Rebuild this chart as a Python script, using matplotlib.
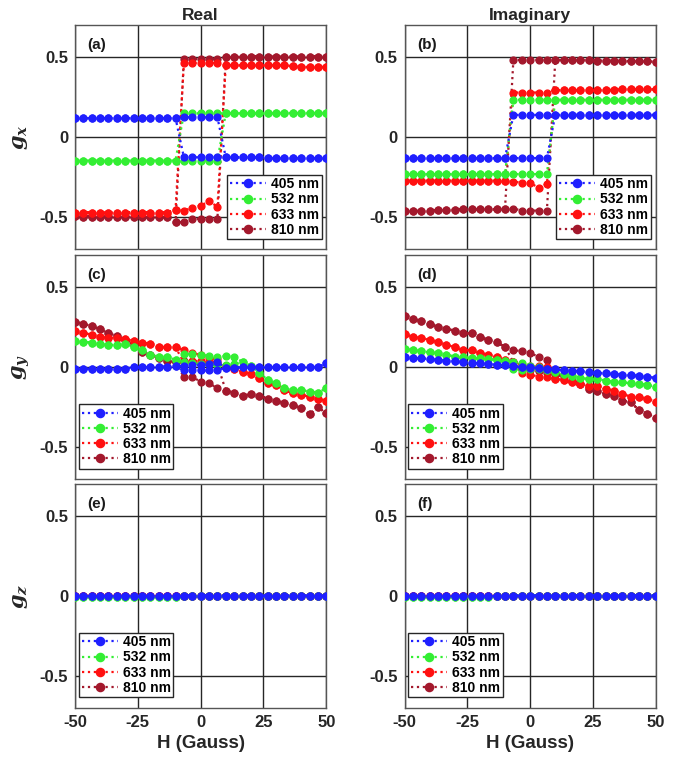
import matplotlib
matplotlib.use('Agg')
import matplotlib.pyplot as plt

plt.rcParams['font.family'] = ['Liberation Sans', 'DejaVu Sans']
plt.rcParams['font.weight'] = 'bold'
plt.rcParams['axes.unicode_minus'] = False
plt.rcParams['mathtext.fontset'] = 'custom'
plt.rcParams['mathtext.it'] = 'DejaVu Serif:italic'
plt.rcParams['mathtext.rm'] = 'DejaVu Serif'

# ---------------- data ----------------
H = [-50.0, -46.67, -43.33, -40.0, -36.67, -33.33, -30.0, -26.67, -23.33, -20.0,
     -16.67, -13.33, -10.0, -6.67, -3.33, 0.0, 3.33, 6.67, 10.0, 13.33,
     16.67, 20.0, 23.33, 26.67, 30.0, 33.33, 36.67, 40.0, 43.33, 46.67, 50.0]

wavelengths = ['405 nm', '532 nm', '633 nm', '810 nm']
colors = ['#1f1fff', '#33ee33', '#ff1010', '#a3182c']

# (a) Real g_x : forward sweep (up) and backward sweep (dn), both listed in increasing H
gx_re_405_up = [0.12, 0.12, 0.12, 0.12, 0.12, 0.12, 0.12, 0.12, 0.12, 0.12, 0.12, 0.12, 0.12,
                0.125, 0.125, 0.125, 0.125, 0.125, -0.125, -0.125, -0.125, -0.125, -0.125,
                -0.13, -0.13, -0.13, -0.13, -0.13, -0.13, -0.13, -0.13]
gx_re_405_dn = [0.12, 0.12, 0.12, 0.12, 0.12, 0.12, 0.12, 0.12, 0.12, 0.12, 0.12, 0.12, 0.12,
                -0.125, -0.125, -0.125, -0.125, -0.125, -0.125, -0.125, -0.125, -0.125, -0.125,
                -0.13, -0.13, -0.13, -0.13, -0.13, -0.13, -0.13, -0.13]
gx_re_532_up = [-0.145, -0.145, -0.145, -0.145, -0.145, -0.145, -0.145, -0.145, -0.145, -0.145,
                -0.145, -0.145, -0.145, -0.145, -0.145, -0.145, -0.145, -0.145, 0.15, 0.15,
                0.15, 0.15, 0.15, 0.15, 0.152, 0.152, 0.152, 0.152, 0.152, 0.152, 0.152]
gx_re_532_dn = [-0.145, -0.145, -0.145, -0.145, -0.145, -0.145, -0.145, -0.145, -0.145, -0.145,
                -0.145, -0.145, -0.145, 0.15, 0.15, 0.15, 0.15, 0.15, 0.15, 0.15,
                0.15, 0.15, 0.15, 0.15, 0.152, 0.152, 0.152, 0.152, 0.152, 0.152, 0.152]
gx_re_633_up = [-0.47, -0.47, -0.47, -0.47, -0.47, -0.47, -0.47, -0.47, -0.47, -0.47, -0.47, -0.47,
                -0.455, -0.458, -0.44, -0.427, -0.40, -0.433, 0.45, 0.45, 0.45, 0.45, 0.45, 0.45,
                0.45, 0.45, 0.445, 0.44, 0.44, 0.44, 0.44]
gx_re_633_dn = [-0.47, -0.47, -0.47, -0.47, -0.47, -0.47, -0.47, -0.47, -0.47, -0.47, -0.47, -0.47,
                -0.455, 0.465, 0.465, 0.465, 0.465, 0.465, 0.45, 0.45, 0.45, 0.45, 0.45, 0.45,
                0.45, 0.45, 0.445, 0.44, 0.44, 0.44, 0.44]
gx_re_810_up = [-0.49, -0.495, -0.495, -0.495, -0.495, -0.495, -0.495, -0.5, -0.5, -0.5, -0.5, -0.5,
                -0.53, -0.53, -0.51, -0.51, -0.51, -0.51, 0.5, 0.5, 0.505, 0.505, 0.505, 0.505,
                0.505, 0.505, 0.505, 0.505, 0.505, 0.505, 0.505]
gx_re_810_dn = [-0.49, -0.495, -0.495, -0.495, -0.495, -0.495, -0.495, -0.5, -0.5, -0.5, -0.5, -0.5,
                -0.53, 0.49, 0.49, 0.49, 0.49, 0.49, 0.5, 0.5, 0.505, 0.505, 0.505, 0.505,
                0.505, 0.505, 0.505, 0.505, 0.505, 0.505, 0.505]

# (b) Imaginary g_x
gx_im_405_up = [-0.13, -0.13, -0.13, -0.13, -0.13, -0.13, -0.13, -0.13, -0.13, -0.13, -0.13, -0.13,
                -0.13, -0.13, -0.13, -0.13, -0.13, -0.13, 0.14, 0.14, 0.14, 0.14, 0.14, 0.14,
                0.14, 0.14, 0.14, 0.14, 0.14, 0.14, 0.14]
gx_im_405_dn = [-0.13, -0.13, -0.13, -0.13, -0.13, -0.13, -0.13, -0.13, -0.13, -0.13, -0.13, -0.13,
                -0.13, 0.14, 0.14, 0.14, 0.14, 0.14, 0.14, 0.14, 0.14, 0.14, 0.14, 0.14,
                0.14, 0.14, 0.14, 0.14, 0.14, 0.14, 0.14]
gx_im_532_up = [-0.23, -0.23, -0.23, -0.23, -0.23, -0.23, -0.23, -0.23, -0.23, -0.23, -0.23, -0.23,
                -0.23, -0.23, -0.23, -0.23, -0.23, -0.23, 0.235, 0.235, 0.235, 0.235, 0.235, 0.235,
                0.235, 0.235, 0.235, 0.235, 0.235, 0.235, 0.235]
gx_im_532_dn = [-0.23, -0.23, -0.23, -0.23, -0.23, -0.23, -0.23, -0.23, -0.23, -0.23, -0.23, -0.23,
                -0.23, 0.235, 0.235, 0.235, 0.235, 0.235, 0.235, 0.235, 0.235, 0.235, 0.235, 0.235,
                0.235, 0.235, 0.235, 0.235, 0.235, 0.235, 0.235]
gx_im_633_up = [-0.27, -0.27, -0.27, -0.27, -0.27, -0.27, -0.27, -0.27, -0.27, -0.27, -0.27, -0.27,
                -0.27, -0.277, -0.283, -0.285, -0.315, -0.29, 0.295, 0.295, 0.295, 0.295, 0.295, 0.295,
                0.295, 0.297, 0.3, 0.3, 0.3, 0.3, 0.3]
gx_im_633_dn = [-0.27, -0.27, -0.27, -0.27, -0.27, -0.27, -0.27, -0.27, -0.27, -0.27, -0.27, -0.27,
                -0.27, 0.28, 0.28, 0.28, 0.28, 0.28, 0.295, 0.295, 0.295, 0.295, 0.295, 0.295,
                0.295, 0.297, 0.3, 0.3, 0.3, 0.3, 0.3]
gx_im_810_up = [-0.46, -0.46, -0.46, -0.458, -0.455, -0.455, -0.452, -0.45, -0.45, -0.45, -0.45, -0.45,
                -0.445, -0.445, -0.458, -0.458, -0.458, -0.458, 0.483, 0.483, 0.483, 0.483, 0.483, 0.48,
                0.48, 0.48, 0.478, 0.476, 0.475, 0.474, 0.473]
gx_im_810_dn = [-0.46, -0.46, -0.46, -0.458, -0.455, -0.455, -0.452, -0.45, -0.45, -0.45, -0.45, -0.45,
                -0.445, 0.483, 0.483, 0.483, 0.483, 0.483, 0.483, 0.483, 0.483, 0.483, 0.483, 0.48,
                0.48, 0.48, 0.478, 0.476, 0.475, 0.474, 0.473]

# (c) Real g_y
gy_re_405_up = [-0.008, -0.008, -0.01, -0.01, -0.01, -0.01, -0.008, 0.0, 0.0, 0.002, 0.003, 0.004,
                0.005, -0.02, -0.02, -0.02, -0.02, -0.02, -0.002, -0.002, 0.0, 0.0, 0.0, 0.0,
                0.0, 0.0, 0.0, 0.0, 0.0, 0.003, 0.025]
gy_re_405_dn = [-0.008, -0.008, -0.01, -0.01, -0.01, -0.01, -0.008, 0.0, 0.0, 0.002, 0.003, 0.004,
                0.005, 0.01, 0.015, 0.015, 0.02, 0.03, -0.002, -0.002, 0.0, 0.0, 0.0, 0.0,
                0.0, 0.0, 0.0, 0.0, 0.0, 0.003, 0.025]
gy_re_532_up = [0.167, 0.16, 0.154, 0.146, 0.14, 0.14, 0.146, 0.129, 0.108, 0.077, 0.067, 0.067,
                0.046, 0.083, 0.083, 0.077, 0.071, 0.063, 0.071, 0.063, 0.035, 0.008, -0.033, -0.079,
                -0.1, -0.131, -0.142, -0.142, -0.152, -0.158, -0.131]
gy_re_532_dn = [0.167, 0.16, 0.154, 0.146, 0.14, 0.14, 0.146, 0.129, 0.108, 0.077, 0.067, 0.067,
                0.046, 0.03, 0.025, 0.02, 0.02, 0.015, 0.015, 0.02, 0.035, 0.008, -0.033, -0.079,
                -0.1, -0.131, -0.142, -0.142, -0.152, -0.158, -0.131]
gy_re_633_up = [0.227, 0.217, 0.202, 0.19, 0.185, 0.185, 0.175, 0.167, 0.154, 0.146, 0.129, 0.125,
                0.125, 0.108, 0.092, 0.075, 0.06, 0.05, 0.008, -0.013, -0.027, -0.042, -0.069, -0.1,
                -0.11, -0.142, -0.163, -0.173, -0.183, -0.2, -0.208]
gy_re_633_dn = [0.227, 0.217, 0.202, 0.19, 0.185, 0.185, 0.175, 0.167, 0.154, 0.146, 0.129, 0.125,
                0.125, 0.03, 0.04, 0.04, 0.035, 0.03, 0.008, -0.013, -0.027, -0.042, -0.069, -0.1,
                -0.11, -0.142, -0.163, -0.173, -0.183, -0.2, -0.208]
gy_re_810_up = [0.285, 0.271, 0.258, 0.238, 0.213, 0.196, 0.17, 0.14, 0.098, 0.075, 0.056, 0.04,
                0.03, 0.04, 0.03, 0.02, 0.03, 0.02, -0.146, -0.16, -0.177, -0.169, -0.177, -0.196,
                -0.208, -0.225, -0.235, -0.256, -0.294, -0.25, -0.288]
gy_re_810_dn = [0.285, 0.271, 0.258, 0.238, 0.213, 0.196, 0.17, 0.14, 0.098, 0.075, 0.056, 0.04,
                0.03, -0.06, -0.06, -0.09, -0.1, -0.13, -0.146, -0.16, -0.177, -0.169, -0.177, -0.196,
                -0.208, -0.225, -0.235, -0.256, -0.294, -0.25, -0.288]

# (d) Imaginary g_y
gy_im_405_up = [0.063, 0.058, 0.056, 0.052, 0.046, 0.042, 0.038, 0.031, 0.029, 0.025, 0.021, 0.017,
                0.013, 0.008, 0.004, 0.0, -0.004, -0.008, -0.013, -0.017, -0.021, -0.025, -0.031, -0.033,
                -0.038, -0.042, -0.046, -0.05, -0.054, -0.058, -0.067]
gy_im_405_dn = [0.063, 0.058, 0.056, 0.052, 0.046, 0.042, 0.038, 0.031, 0.029, 0.025, 0.021, 0.017,
                0.013, 0.006, 0.0, -0.002, -0.006, -0.01, -0.013, -0.017, -0.021, -0.025, -0.031, -0.033,
                -0.038, -0.042, -0.046, -0.05, -0.054, -0.058, -0.067]
gy_im_532_up = [0.115, 0.108, 0.1, 0.094, 0.088, 0.079, 0.067, 0.063, 0.058, 0.058, 0.052, 0.046,
                0.042, 0.031, 0.025, 0.01, 0.0, -0.017, -0.031, -0.042, -0.052, -0.067, -0.073, -0.073,
                -0.083, -0.09, -0.094, -0.1, -0.104, -0.108, -0.125]
gy_im_532_dn = [0.115, 0.108, 0.1, 0.094, 0.088, 0.079, 0.067, 0.063, 0.058, 0.058, 0.052, 0.046,
                0.042, -0.01, -0.015, -0.01, -0.008, -0.02, -0.031, -0.042, -0.052, -0.067, -0.073, -0.073,
                -0.083, -0.09, -0.094, -0.1, -0.104, -0.108, -0.125]
gy_im_633_up = [0.208, 0.19, 0.183, 0.171, 0.156, 0.142, 0.125, 0.108, 0.108, 0.088, 0.079, 0.063,
                0.046, 0.03, 0.015, 0.01, 0.005, 0.0, -0.073, -0.079, -0.094, -0.104, -0.115, -0.115,
                -0.135, -0.146, -0.167, -0.183, -0.188, -0.198, -0.215]
gy_im_633_dn = [0.208, 0.19, 0.183, 0.171, 0.156, 0.142, 0.125, 0.108, 0.108, 0.088, 0.079, 0.063,
                0.046, 0.035, -0.038, -0.046, -0.058, -0.063, -0.073, -0.079, -0.094, -0.104, -0.115, -0.115,
                -0.135, -0.146, -0.167, -0.183, -0.188, -0.198, -0.215]
gy_im_810_up = [0.32, 0.302, 0.288, 0.271, 0.254, 0.24, 0.229, 0.213, 0.213, 0.19, 0.171, 0.156,
                0.129, 0.108, 0.1, 0.088, 0.067, 0.046, -0.04, -0.05, -0.083, -0.104, -0.135, -0.146,
                -0.167, -0.177, -0.208, -0.219, -0.267, -0.29, -0.317]
gy_im_810_dn = [0.32, 0.302, 0.288, 0.271, 0.254, 0.24, 0.229, 0.213, 0.213, 0.19, 0.171, 0.156,
                0.129, 0.03, -0.01, -0.02, -0.025, -0.035, -0.045, -0.06, -0.083, -0.104, -0.135, -0.146,
                -0.167, -0.177, -0.208, -0.219, -0.267, -0.29, -0.317]

# (e) Real g_z  and (f) Imaginary g_z (no hysteresis visible)
gz_re_405 = [0.0, 0.0, 0.0, 0.0, 0.0, 0.0, 0.0, 0.0, 0.0, 0.0, 0.0, 0.0, 0.0, 0.002, 0.002, 0.002,
             0.002, 0.002, 0.002, 0.002, 0.002, 0.002, 0.002, 0.002, 0.002, 0.002, 0.002, 0.002, 0.002,
             0.002, 0.002]
gz_re_532 = [-0.004, -0.004, -0.004, -0.004, -0.004, -0.004, -0.004, -0.004, -0.004, -0.004, -0.004,
             -0.004, -0.004, 0.0, 0.0, 0.0, 0.0, 0.0, 0.0, 0.0, 0.0, 0.0, 0.0, 0.0, 0.0, 0.0, 0.0, 0.0,
             0.0, 0.0, 0.0]
gz_re_633 = [0.0, 0.0, 0.0, 0.0, 0.0, 0.0, 0.0, 0.0, 0.0, 0.0, 0.0, 0.0, 0.0, 0.0, 0.0, 0.0,
             0.0, 0.0, 0.0, 0.0, 0.0, 0.0, 0.0, 0.0, 0.0, 0.0, 0.0, 0.0, 0.0, 0.0, 0.0]
gz_re_810 = [0.0, 0.0, 0.0, 0.0, 0.0, 0.0, 0.0, 0.0, 0.0, 0.0, 0.0, 0.0, 0.0, 0.0, 0.0, 0.0,
             0.0, 0.0, 0.0, 0.0, 0.0, 0.0, 0.0, 0.0, 0.0, 0.0, 0.0, 0.0, 0.0, 0.0, 0.0]
gz_im_405 = [0.0, 0.0, 0.0, 0.0, 0.0, 0.0, 0.0, 0.0, 0.0, 0.0, 0.0, 0.0, 0.0, 0.002, 0.002, 0.002,
             0.002, 0.002, 0.002, 0.002, 0.002, 0.002, 0.002, 0.002, 0.002, 0.002, 0.002, 0.002, 0.002,
             0.002, 0.002]
gz_im_532 = [-0.004, -0.004, -0.004, -0.004, -0.004, -0.004, -0.004, -0.004, -0.004, -0.004, -0.004,
             -0.002, 0.0, 0.003, 0.003, 0.003, 0.003, 0.003, 0.003, 0.003, 0.003, 0.003, 0.003, 0.003,
             0.003, 0.003, 0.003, 0.003, 0.003, 0.003, 0.003]
gz_im_633 = [0.0, 0.0, 0.0, 0.0, 0.0, 0.0, 0.0, 0.0, 0.0, 0.0, 0.0, 0.0, 0.0, 0.0, 0.0, 0.0,
             0.0, 0.0, 0.0, 0.0, 0.0, 0.0, 0.0, 0.0, 0.0, 0.0, 0.0, 0.0, 0.0, 0.0, 0.0]
gz_im_810 = [0.0, 0.0, 0.0, 0.0, 0.0, 0.0, 0.0, 0.0, 0.0, 0.0, 0.0, 0.0, 0.0, 0.0, 0.0, 0.0,
             0.0, 0.0, 0.0, 0.0, 0.0, 0.0, 0.0, 0.0, 0.0, 0.0, 0.0, 0.0, 0.0, 0.0, 0.0]

x_ticks = [-50, -25, 0, 25, 50]
x_ticklabels = ['-50', '-25', '0', '25', '50']
y_ticks = [-0.5, 0, 0.5]
y_ticklabels = ['-0.5', '0', '0.5']
panel_letters = ['(a)', '(b)', '(c)', '(d)', '(e)', '(f)']
row_labels = [r'$g_x$', r'$g_y$', r'$g_z$']
col_titles = ['Real', 'Imaginary']

panels = [
    [(gx_re_405_up, gx_re_405_dn), (gx_re_532_up, gx_re_532_dn), (gx_re_633_up, gx_re_633_dn), (gx_re_810_up, gx_re_810_dn)],
    [(gx_im_405_up, gx_im_405_dn), (gx_im_532_up, gx_im_532_dn), (gx_im_633_up, gx_im_633_dn), (gx_im_810_up, gx_im_810_dn)],
    [(gy_re_405_up, gy_re_405_dn), (gy_re_532_up, gy_re_532_dn), (gy_re_633_up, gy_re_633_dn), (gy_re_810_up, gy_re_810_dn)],
    [(gy_im_405_up, gy_im_405_dn), (gy_im_532_up, gy_im_532_dn), (gy_im_633_up, gy_im_633_dn), (gy_im_810_up, gy_im_810_dn)],
    [(gz_re_405, gz_re_405), (gz_re_532, gz_re_532), (gz_re_633, gz_re_633), (gz_re_810, gz_re_810)],
    [(gz_im_405, gz_im_405), (gz_im_532, gz_im_532), (gz_im_633, gz_im_633), (gz_im_810, gz_im_810)],
]

# ---------------- figure ----------------
W, Hpx = 689, 766
fig = plt.figure(figsize=(W / 100, Hpx / 100), dpi=100)
col_left_px = [75, 404.5]
col_w_px = 251.3
row_top_px = [25.3, 255.3, 484]
row_h_px = 224

for idx, series in enumerate(panels):
    r, c = divmod(idx, 2)
    ax = fig.add_axes([col_left_px[c] / W, 1 - (row_top_px[r] + row_h_px) / Hpx,
                       col_w_px / W, row_h_px / Hpx])
    ax.set_xlim(-50, 50)
    ax.set_ylim(-0.7, 0.7)
    ax.set_axisbelow(True)
    ax.grid(True, color='#262626', linewidth=1.0)
    for sp in ax.spines.values():
        sp.set_color('#555555')
        sp.set_linewidth(1.0)
    ax.set_xticks(x_ticks)
    ax.set_yticks(y_ticks)
    ax.set_yticklabels(y_ticklabels, fontsize=12, fontweight='bold', color='#262626')
    if r == 2:
        ax.set_xticklabels(x_ticklabels, fontsize=12, fontweight='bold', color='#262626')
        ax.set_xlabel('H (Gauss)', fontsize=13.5, fontweight='bold', color='#262626', labelpad=4)
    else:
        ax.set_xticklabels([])
    ax.tick_params(length=0, pad=5)

    handles = [None] * 4
    for i in [3, 2, 1, 0]:
        fwd, bwd = series[i]
        xs = list(H) + list(H[::-1])
        ys = list(fwd) + list(bwd[::-1])
        ln, = ax.plot(xs, ys, linestyle=':', linewidth=1.6, color=colors[i],
                      marker='o', markersize=4.9, markerfacecolor=colors[i],
                      markeredgecolor=colors[i], zorder=3 + (3 - i))
        handles[i] = ln
    leg_kw = dict(prop={'weight': 'bold', 'size': 10}, handlelength=2.6, handletextpad=0.35,
                  labelspacing=0.08, borderpad=0.2, fancybox=False, framealpha=1,
                  edgecolor='#262626', markerscale=1.2)
    if r == 0:
        leg = ax.legend(handles, wavelengths, loc='lower right', bbox_to_anchor=(0.981, 0.044),
                        borderaxespad=0, **leg_kw)
    else:
        leg = ax.legend(handles, wavelengths, loc='lower left', bbox_to_anchor=(0.015, 0.047),
                        borderaxespad=0, **leg_kw)
    leg.get_frame().set_linewidth(1.0)
    leg.set_zorder(20)
    ax.text(0.05, 0.912, panel_letters[idx], transform=ax.transAxes, fontsize=11,
            fontweight='bold', ha='left', va='center', color='#1a1a1a')
    if r == 0:
        ax.set_title(col_titles[c], fontsize=12.5, fontweight='bold', pad=4, color='#262626')
    if c == 0:
        fig.text(21 / W, 1 - (row_top_px[r] + row_h_px / 2) / Hpx, row_labels[r],
                 rotation=90, ha='center', va='center', fontsize=15, color='#262626')

fig.savefig('out.png', dpi=100)
